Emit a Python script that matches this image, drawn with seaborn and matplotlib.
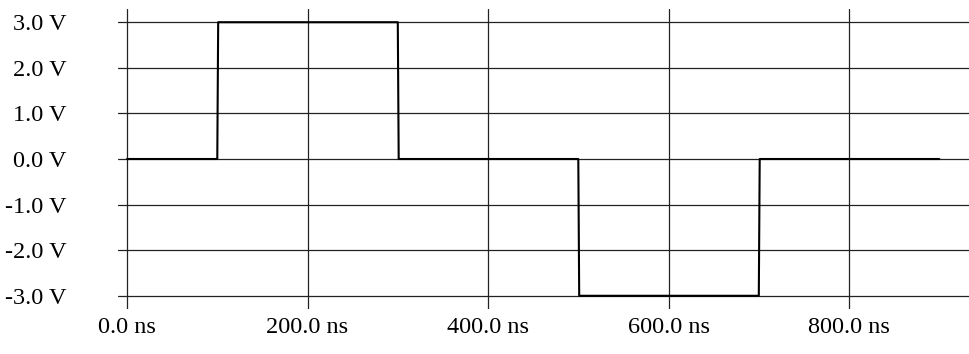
import matplotlib
matplotlib.use("Agg")
import matplotlib.pyplot as plt
import seaborn as sns
import pandas as pd

# Waveform breakpoints: time in ns, voltage in V
time_ns = [0, 100, 101, 300, 301, 500, 501, 700, 701, 900]
volts = [0.0, 0.0, 3.0, 3.0, 0.0, 0.0, -3.0, -3.0, 0.0, 0.0]

x_ticks = [0, 200, 400, 600, 800]
x_labels = ["0.0 ns", "200.0 ns", "400.0 ns", "600.0 ns", "800.0 ns"]
y_ticks = [3, 2, 1, 0, -1, -2, -3]
y_labels = ["3.0 V", "2.0 V", "1.0 V", "0.0 V", "-1.0 V", "-2.0 V", "-3.0 V"]

sns.set_style("white")
plt.rcParams["font.family"] = ["Liberation Serif", "DejaVu Serif"]

df = pd.DataFrame({"t": time_ns, "v": volts})

fig = plt.figure(figsize=(9.7, 3.54), dpi=100)
ax = fig.add_axes([118 / 970, 1 - 309 / 354, 1 - 118 / 970, 300 / 354])

sns.lineplot(data=df, x="t", y="v", sort=False, estimator=None,
             color="black", linewidth=1.5, ax=ax, zorder=3)

ax.set_xlim(-10, 934)
ax.set_ylim(-3.29, 3.29)
ax.set_xticks(x_ticks)
ax.set_xticklabels(x_labels)
ax.set_yticks(y_ticks)
ax.set_yticklabels(y_labels)
ax.set_xlabel("")
ax.set_ylabel("")

ax.grid(True, color="#222222", linewidth=0.9)
ax.set_axisbelow(True)
for s in ax.spines.values():
    s.set_visible(False)
ax.tick_params(axis="both", length=0, labelsize=17.5, colors="black")
ax.tick_params(axis="y", pad=37)
ax.tick_params(axis="x", pad=6)

fig.savefig("out.png", dpi=100)
